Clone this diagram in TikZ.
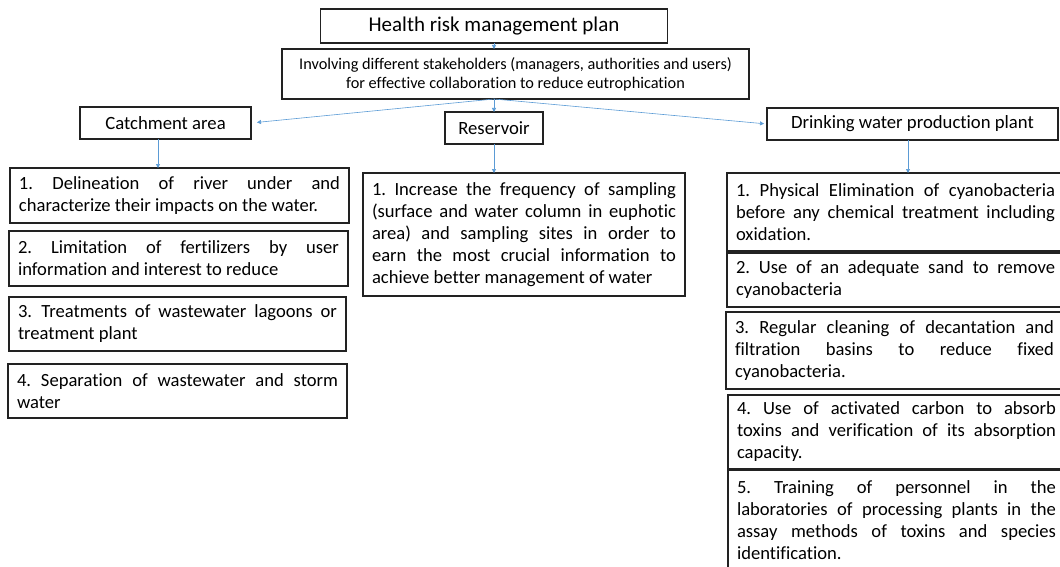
\documentclass[tikz,border=0pt]{standalone}
\usepackage{fontspec}
\setmainfont{Carlito}[Ligatures={NoCommon}]
\usetikzlibrary{arrows.meta}
\definecolor{linkblue}{HTML}{5B9BD5}
\definecolor{boxline}{HTML}{222222}
\hbadness=10000
\frenchspacing
\begin{document}
\begin{tikzpicture}[x=1pt,y=-1pt,
  box/.style={draw=boxline, line width=1.1pt, inner sep=0pt, outer sep=0pt,
    align=center, font=\fontsize{18.7}{22}\selectfont},
  item/.style={draw=boxline, line width=1.1pt, anchor=north west,
    inner xsep=9pt, inner ysep=0pt, outer sep=0pt,
    font=\fontsize{18.6}{22}\selectfont, align=justify},
  conn/.style={draw=linkblue, line width=0.6pt,
    -{Triangle[width=4pt,length=4pt]}}
]
\useasboundingbox (0,0) rectangle (1060,567);
\clip (0,0) rectangle (1060,567);

% header and stakeholders
\node[box, minimum width=347pt, minimum height=34pt,
  font=\fontsize{21}{25}\selectfont] (title) at (494,26) {Health risk management plan};
\node[box, minimum width=467pt, minimum height=50pt,
  font=\fontsize{16.3}{19}\selectfont] (stake) at (515.5,74)
  {Involving different stakeholders (managers, authorities and users)\\
   for effective collaboration to reduce eutrophication};

% the three domains
\node[box, minimum width=171pt, minimum height=32pt] (catch) at (165.5,123) {Catchment area};
\node[box, minimum width=98pt, minimum height=32pt] (res) at (494,128) {Reservoir};
\node[box, minimum width=291pt, minimum height=32pt] (drink) at (912.5,124) {Drinking water production plant};

% catchment measures
\node[item, text width=321pt, minimum height=55pt] (L1) at (10,168)
  {1. Delineation of river under and\linebreak characterize their impacts on the water.};
\node[item, text width=321pt, minimum height=55pt] (L2) at (9,231)
  {2. Limitation of fertilizers by user\linebreak information and interest to reduce};
\node[item, text width=319pt, minimum height=54pt] (L3) at (9,297)
  {3.\enspace Treatments of wastewater lagoons or\linebreak treatment plant};
\node[item, text width=321pt, minimum height=54pt] (L4) at (8,364)
  {4. Separation of wastewater and storm\linebreak water};

% reservoir measure
\node[item, text width=304pt, minimum height=123pt] (R0) at (363,173)
  {1. Increase the frequency of sampling\linebreak (surface and water column in euphotic\linebreak
   area) and sampling sites in order to\linebreak earn the most crucial information to\linebreak
   achieve better management of water};

% plant measures
\node[item, text width=319pt, minimum height=78pt] (D1) at (727,173)
  {1. Physical Elimination of cyanobacteria\linebreak before any chemical treatment including\linebreak oxidation.};
\node[item, text width=319pt, minimum height=54pt] (D2) at (727,253)
  {2. Use of an adequate sand to remove\linebreak cyanobacteria};
\node[item, text width=319pt, minimum height=77pt] (D3) at (726,312)
  {3. Regular cleaning of decantation and\linebreak filtration basins to reduce fixed\linebreak cyanobacteria.};
\node[item, text width=319pt, minimum height=74pt] (D4) at (728,395)
  {4. Use of activated carbon to absorb\linebreak toxins and verification of its absorption\linebreak capacity.};
\node[item, text width=319pt, minimum height=100pt] (D5) at (728,470)
  {5. Training of personnel in the\linebreak laboratories of processing plants in the\linebreak
   assay methods of toxins and species\linebreak identification.};

% connectors
\coordinate (hub) at (title.south |- stake.south);
\draw[conn] (title.south) -- (title.south |- stake.north);
\draw[conn] (hub) -- (res.north);
\draw[conn, shorten >=6pt] (hub) -- (catch.east);
\draw[conn, shorten >=3pt] (hub) -- (drink.west);
\draw[conn] ([xshift=-7.5pt]catch.south) -- ([xshift=-7.5pt]catch.south |- L1.north);
\draw[conn] (res.south) -- (res.south |- R0.north);
\draw[conn] ([xshift=-4.5pt]drink.south) -- ([xshift=-4.5pt]drink.south |- D1.north);
\end{tikzpicture}
\end{document}
